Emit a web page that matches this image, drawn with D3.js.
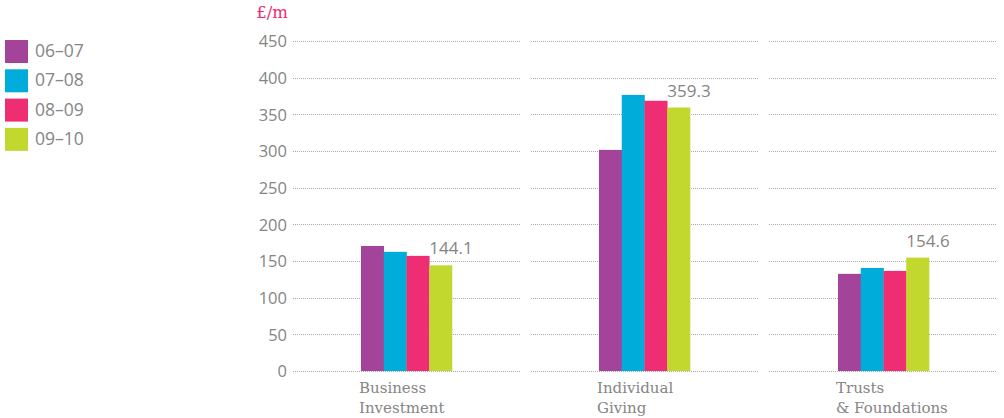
<!DOCTYPE html>
<html>
<head>
<meta charset="utf-8">
<script src="https://cdn.jsdelivr.net/npm/d3@7"></script>
<style>
  html, body { margin: 0; padding: 0; background: #fff; }
  svg { display: block; }
</style>
</head>
<body>
<svg id="chart" width="1004" height="418"></svg>
<script>
// Income by source, £ millions
const categories = [["Business", "Investment"], ["Individual", "Giving"], ["Trusts", "& Foundations"]];
const years = ["06–07", "07–08", "08–09", "09–10"];
const y0607 = [170.5, 301.5, 132.5];
const y0708 = [162.5, 376.5, 140.5];
const y0809 = [157.0, 368.5, 136.5];
const y0910 = [144.1, 359.3, 154.6];
const yTicks = [0, 50, 100, 150, 200, 250, 300, 350, 400, 450];
const unitLabel = "£/m";

const seriesValues = [y0607, y0708, y0809, y0910];
const colors = ["#a3449a", "#00acd9", "#ee2d72", "#c3d82e"];
const textGray = "#858585";
const sans = "'Open Sans', sans-serif";
const slab = "'DejaVu Serif', serif";

const svg = d3.select("#chart");
const catKeys = categories.map(c => c.join(" "));

const y = d3.scaleLinear().domain([0, 450]).range([371, 41]);
const x = d3.scaleBand().domain(catKeys).range([293, 997]).paddingInner(0.045).paddingOuter(0);
const groupWidth = 91;
const xs = d3.scaleBand().domain(years).range([0, groupWidth]).padding(0);

// Dotted gridlines, one segment per category band
const grid = svg.append("g");
catKeys.forEach(k => {
  const x1 = Math.round(x(k));
  const x2 = Math.round(x(k) + x.bandwidth());
  grid.selectAll(null)
    .data(yTicks)
    .join("line")
    .attr("x1", x1)
    .attr("x2", x2)
    .attr("y1", d => Math.round(y(d)) + 0.5)
    .attr("y2", d => Math.round(y(d)) + 0.5)
    .attr("stroke", "#aaa")
    .attr("stroke-width", 1)
    .attr("stroke-dasharray", "1 1");
});

// Y axis labels
const yAxis = d3.axisLeft(y).tickValues(yTicks).tickSize(0).tickPadding(0);
const yG = svg.append("g").attr("transform", "translate(287,0)").call(yAxis);
yG.select(".domain").remove();
yG.selectAll("text")
  .attr("fill", textGray)
  .style("font-family", sans)
  .style("font-size", "16.5px")
  .attr("dy", "0.35em");

svg.append("text")
  .attr("x", 288)
  .attr("y", 18)
  .attr("text-anchor", "end")
  .attr("fill", "#ee2d72")
  .style("font-family", slab)
  .style("font-size", "16.5px")
  .text(unitLabel);

// Bars
const groups = svg.append("g").selectAll("g")
  .data(catKeys)
  .join("g")
  .attr("transform", k => `translate(${Math.round(x(k) + (x.bandwidth() - groupWidth) / 2)},0)`);

groups.each(function (k, ci) {
  const g = d3.select(this);
  g.selectAll("rect")
    .data(years.map((yr, si) => ({ yr, si, v: seriesValues[si][ci] })))
    .join("rect")
    .attr("x", d => xs(d.yr))
    .attr("width", xs.bandwidth() + 0.3)
    .attr("y", d => y(d.v))
    .attr("height", d => y(0) - y(d.v))
    .attr("fill", d => colors[d.si]);

  // Value label for the latest year
  const last = years[years.length - 1];
  g.append("text")
    .attr("x", xs(last))
    .attr("y", y(y0910[ci]) - 11)
    .attr("fill", textGray)
    .style("font-family", sans)
    .style("font-size", "17px")
    .text(y0910[ci]);

  // Category label
  const lbl = g.append("text")
    .attr("fill", textGray)
    .style("font-family", slab)
    .style("font-size", "15px");
  categories[ci].forEach((line, li) => {
    lbl.append("tspan").attr("x", -2).attr("y", 393 + li * 20).text(line);
  });
});

// Legend
const legend = svg.append("g").selectAll("g")
  .data(years)
  .join("g")
  .attr("transform", (d, i) => `translate(5,${40 + i * 29.3})`);
legend.append("rect")
  .attr("width", 23)
  .attr("height", 23)
  .attr("fill", (d, i) => colors[i]);
legend.append("text")
  .attr("x", 30)
  .attr("y", 17)
  .attr("fill", textGray)
  .style("font-family", sans)
  .style("font-size", "17.5px")
  .text(d => d);
</script>
</body>
</html>
